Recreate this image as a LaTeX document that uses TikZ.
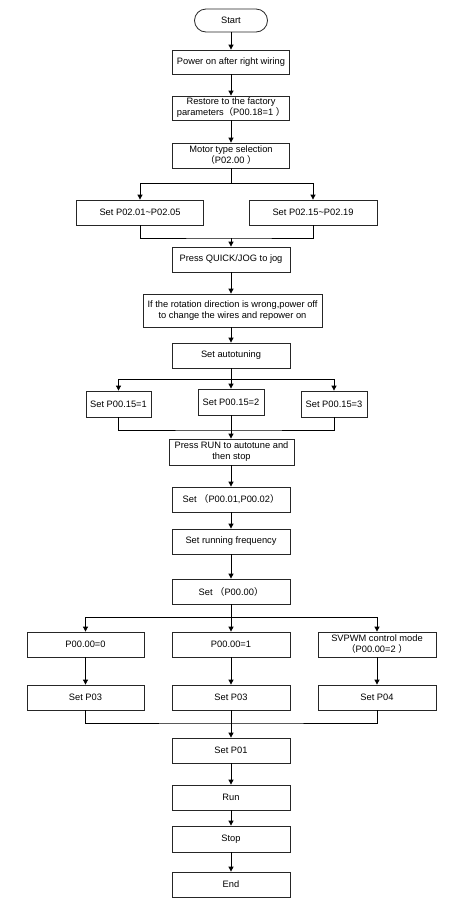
\documentclass[tikz,border=0pt]{standalone}
\usepackage{fontspec}
\setmainfont{Liberation Sans}
\newfontfamily\cjkfont{Noto Sans CJK SC}
\usetikzlibrary{arrows.meta}
\newcommand{\flp}{{\cjkfont （}}
\newcommand{\frp}{{\cjkfont ）}}
\begin{document}
\begin{tikzpicture}[x=1pt,y=-1pt,
  box/.style={draw=black!85, line width=0.8pt, inner sep=0pt, align=center,
    font=\fontsize{9.3}{11}\selectfont, minimum width=118, minimum height=25},
  arr/.style={-{Triangle[length=5pt,width=5pt]}, line width=0.8pt},
  ln/.style={line width=0.8pt}]
\useasboundingbox (0,0) rectangle (469,911);
\fill[white] (0,0) rectangle (469,911);
% nodes
\node[box, minimum width=73, minimum height=23, rounded corners=11.5pt] (start) at (231,20.5) {Start};
\node[box, minimum width=117, minimum height=24] (power) at (231,62) {Power on after right wiring};
\node[box, minimum width=117, minimum height=24] (restore) at (231,108) {Restore to the factory\\parameters\flp P00.18=1 \frp};
\node[box, minimum width=117] (motor) at (231,155.5) {Motor type selection\\\flp P02.00 \frp};
\node[box, minimum width=127] (p0201) at (140,212.5) {Set P02.01\textasciitilde P02.05};
\node[box, minimum width=128] (p0215) at (313,212.5) {Set P02.15\textasciitilde P02.19};
\node[box] (quick) at (231,259.5) {Press QUICK/JOG to jog};
\node[box, minimum width=179, minimum height=33] (rot) at (232.5,310.5) {If the rotation direction is wrong,power off\\to change the wires and repower on};
\node[box] (autot) at (231,355.5) {Set autotuning};
\node[box, minimum width=65, minimum height=26] (s1) at (118.5,404) {Set P00.15=1};
\node[box, minimum width=66, minimum height=26] (s2) at (231,402) {Set P00.15=2};
\node[box, minimum width=66, minimum height=26] (s3) at (334,404) {Set P00.15=3};
\node[box, minimum width=125, minimum height=26] (prun) at (231.5,452) {Press RUN to autotune and\\then stop};
\node[box] (set0102) at (231,499.5) {Set \flp P00.01,P00.02\frp};
\node[box] (runfreq) at (231,541.5) {Set running frequency};
\node[box] (set0000) at (231,591.5) {Set \flp P00.00\frp};
\node[box, minimum width=117] (p0) at (85.5,644.5) {P00.00=0};
\node[box] (p1) at (231,644.5) {P00.00=1};
\node[box] (svp) at (377,644.5) {SVPWM control mode\\\flp P00.00=2 \frp};
\node[box, minimum width=117] (sp03a) at (85.5,697.5) {Set P03};
\node[box] (sp03b) at (231,697.5) {Set P03};
\node[box] (sp04) at (377,697.5) {Set P04};
\node[box] (setp01) at (231,750.5) {Set P01};
\node[box] (run) at (231,797.5) {Run};
\node[box, minimum height=26] (stop) at (231,839) {Stop};
\node[box] (endn) at (231,884.5) {End};
% connectors
\draw[arr] (start) -- (power);
\draw[arr] (power) -- (restore);
\draw[arr] (restore) -- (motor);
\coordinate (b1) at (231,183);
\draw[ln] (motor.south) -- (b1);
\draw[arr] (b1) -| (p0201.north);
\draw[arr] (b1) -| (p0215.north);
\coordinate (m1) at (231,238);
\draw[ln] (p0201.south) |- (m1) -| (p0215.south);
\draw[arr] (m1) -- (quick.north);
\draw[arr] (quick) -- (rot.north -| quick);
\draw[arr] (rot.south -| autot) -- (autot);
\coordinate (b2) at (231,379);
\draw[ln] (autot.south) -- (b2);
\draw[arr] (b2) -| (s1.north);
\draw[arr] (b2) -- (s2.north);
\draw[arr] (b2) -| (s3.north);
\coordinate (m2) at (231,430);
\draw[ln] (s1.south) |- (m2) -| (s3.south);
\draw[arr] (s2.south) -- (prun.north -| s2);
\draw[arr] (prun.south -| set0102) -- (set0102);
\draw[arr] (set0102) -- (runfreq);
\draw[arr] (runfreq) -- (set0000);
\coordinate (b3) at (231,617);
\draw[ln] (set0000.south) -- (b3);
\draw[arr] (b3) -| (p0.north);
\draw[arr] (b3) -- (p1.north);
\draw[arr] (b3) -| (svp.north);
\draw[arr] (p0) -- (sp03a);
\draw[arr] (p1) -- (sp03b);
\draw[arr] (svp) -- (sp04);
\coordinate (m3) at (231,723);
\draw[ln] (sp03a.south) |- (m3) -| (sp04.south);
\draw[arr] (sp03b.south) -- (setp01.north);
\draw[arr] (setp01) -- (run);
\draw[arr] (run) -- (stop);
\draw[arr] (stop) -- (endn);
\end{tikzpicture}
\end{document}
